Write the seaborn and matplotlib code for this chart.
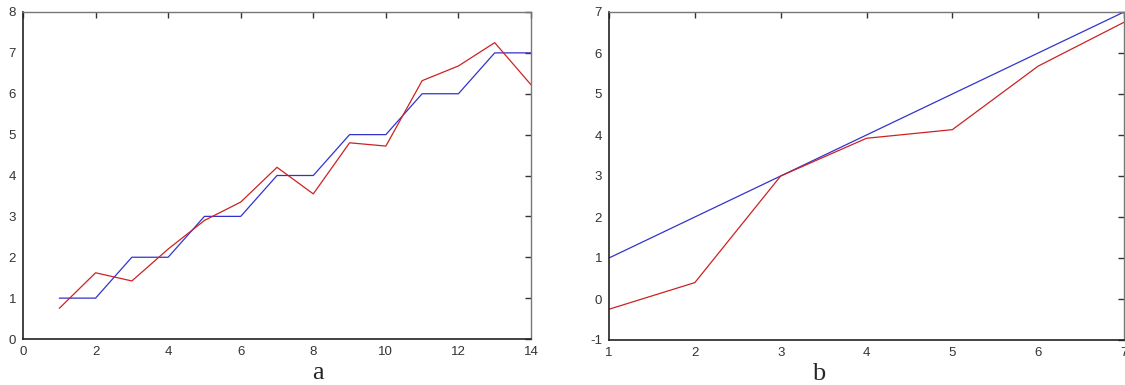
import matplotlib.pyplot as plt
import matplotlib.ticker as mticker
import seaborn as sns
import pandas as pd

sns.set_style("white")
plt.rc("font", family=["Liberation Sans", "DejaVu Sans"], size=9.5)
plt.rc("axes", unicode_minus=False)

# panel a
a_x = [1, 2, 3, 4, 5, 6, 7, 8, 9, 10, 11, 12, 13, 14]
a_blue = [1, 1, 2, 2, 3, 3, 4, 4, 5, 5, 6, 6, 7, 7]
a_red = [0.75, 1.62, 1.42, 2.2, 2.9, 3.35, 4.2, 3.55, 4.8, 4.72, 6.32, 6.68, 7.25, 6.22]

# panel b
b_x = [1, 2, 3, 4, 5, 6, 7]
b_blue = [1, 2, 3, 4, 5, 6, 7]
b_red = [-0.25, 0.4, 3.0, 3.92, 4.13, 5.68, 6.75]

RED = "#cc2222"
BLUE = "#3333cc"

df_a = pd.DataFrame({"x": a_x, "blue": a_blue, "red": a_red})
df_b = pd.DataFrame({"x": b_x, "blue": b_blue, "red": b_red})

fig = plt.figure(figsize=(11.25, 3.85), dpi=100)
ax1 = fig.add_axes([23 / 1125, 1 - 339 / 385, 508 / 1125, 327 / 385])
ax2 = fig.add_axes([609 / 1125, 1 - 340 / 385, 515 / 1125, 328 / 385])

sns.lineplot(data=df_a, x="x", y="blue", ax=ax1, color=BLUE, lw=0.9)
sns.lineplot(data=df_a, x="x", y="red", ax=ax1, color=RED, lw=0.9)
ax1.set(xlim=(0, 14), ylim=(0, 8), xticks=range(0, 15, 2), yticks=range(0, 9))

sns.lineplot(data=df_b, x="x", y="blue", ax=ax2, color=BLUE, lw=0.9)
sns.lineplot(data=df_b, x="x", y="red", ax=ax2, color=RED, lw=0.9)
ax2.set(xlim=(1, 7), ylim=(-1, 7), xticks=range(1, 8), yticks=range(-1, 8))

for ax, lab, lx in [(ax1, "a", (318 - 23) / 508), (ax2, "b", (819 - 609) / 515)]:
    ax.set_xlabel(lab, family="Liberation Serif", fontsize=19)
    ax.xaxis.set_label_coords(lx, -0.07)
    ax.xaxis.label.set_va("top")
    ax.set_ylabel("")
    ax.tick_params(direction="in", length=4, width=1, top=True, right=True,
                   colors="#333333", labelsize=9.5, pad=5)
    ax.xaxis.set_major_formatter(mticker.FormatStrFormatter("%d"))
    ax.yaxis.set_major_formatter(mticker.FormatStrFormatter("%d"))
    for s in ["left", "bottom"]:
        ax.spines[s].set_color("#222222")
        ax.spines[s].set_linewidth(1.2)
    for s in ["top", "right"]:
        ax.spines[s].set_color("#777777")
        ax.spines[s].set_linewidth(1.0)

fig.savefig("out.png", dpi=100)
